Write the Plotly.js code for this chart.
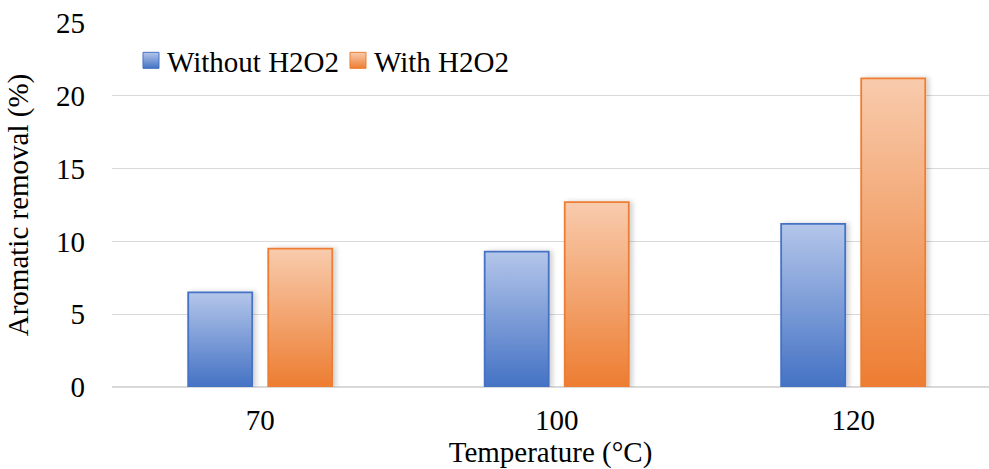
<!DOCTYPE html>
<html>
<head>
<meta charset="utf-8">
<script src="https://cdn.plot.ly/plotly-3.0.1.min.js"></script>
<style>html,body{margin:0;padding:0;background:#fff;}#chart{width:989px;height:469px;}</style>
</head>
<body>
<div id="chart"></div>
<script>
const categories = ['70', '100', '120'];
const withoutH2O2 = [6.5, 9.3, 11.2];
const withH2O2 = [9.5, 12.7, 21.2];
const yTickVals = [0, 5, 10, 15, 20, 25];
const seriesNames = ['Without H2O2', 'With H2O2'];

const FONT = '"Liberation Serif", "Times New Roman", serif';
const FS = 29;

const traces = [
  {type: 'bar', name: seriesNames[0], x: categories, y: withoutH2O2,
   marker: {color: '#4472c4', line: {color: '#4472c4', width: 1.8}}},
  {type: 'bar', name: seriesNames[1], x: categories, y: withH2O2,
   marker: {color: '#ed7d31', line: {color: '#ed7d31', width: 1.8}}}
];

const layout = {
  width: 989, height: 469,
  margin: {l: 112, r: 0, t: 23, b: 82, pad: 0},
  paper_bgcolor: '#fff', plot_bgcolor: '#fff',
  font: {family: FONT, size: FS, color: '#000'},
  barmode: 'group', bargap: 0.46, bargroupgap: 0.2,
  showlegend: true,
  legend: {orientation: 'h', x: 0.0171, xanchor: 'left', y: 0.897, yanchor: 'middle',
           font: {family: FONT, size: FS, color: '#000'}, bgcolor: 'rgba(0,0,0,0)',
           entrywidth: 162, entrywidthmode: 'pixels', traceorder: 'normal'},
  xaxis: {type: 'category', range: [-0.5, 2.458], showgrid: false, showline: false, zeroline: false,
          ticks: '', ticklabelstandoff: 13,
          title: {text: 'Temperature (°C)', font: {family: FONT, size: FS, color: '#000'}, standoff: 7},
          tickfont: {family: FONT, size: FS, color: '#000'}},
  yaxis: {range: [0, 25], tickvals: yTickVals, showgrid: true, gridcolor: '#d9d9d9', gridwidth: 1,
          zeroline: true, zerolinecolor: '#d9d9d9', zerolinewidth: 1.5, showline: false,
          ticks: '', ticklabelstandoff: 26,
          title: {text: 'Aromatic removal (%)', font: {family: FONT, size: FS, color: '#000'}, standoff: 18},
          tickfont: {family: FONT, size: FS, color: '#000'}}
};

const gd = document.getElementById('chart');
Plotly.newPlot(gd, traces, layout, {staticPlot: true, displayModeBar: false}).then(function () {
  const NS = 'http://www.w3.org/2000/svg';
  const svg = gd.querySelector('.main-svg');
  let defs = svg.querySelector('defs');
  if (!defs) { defs = document.createElementNS(NS, 'defs'); svg.insertBefore(defs, svg.firstChild); }
  const grads = [['gBlue', '#b4c6ea', '#4472c4'], ['gOrange', '#f8cbad', '#ed7d31']];
  grads.forEach(function (g) {
    const lg = document.createElementNS(NS, 'linearGradient');
    lg.setAttribute('id', g[0]);
    lg.setAttribute('x1', '0'); lg.setAttribute('y1', '0'); lg.setAttribute('x2', '0'); lg.setAttribute('y2', '1');
    const s1 = document.createElementNS(NS, 'stop'); s1.setAttribute('offset', '0'); s1.setAttribute('stop-color', g[1]);
    const s2 = document.createElementNS(NS, 'stop'); s2.setAttribute('offset', '1'); s2.setAttribute('stop-color', g[2]);
    lg.appendChild(s1); lg.appendChild(s2); defs.appendChild(lg);
  });
  const f = document.createElementNS(NS, 'filter');
  f.setAttribute('id', 'barShadow'); f.setAttribute('x', '-20%'); f.setAttribute('y', '-10%');
  f.setAttribute('width', '150%'); f.setAttribute('height', '120%');
  const ds = document.createElementNS(NS, 'feDropShadow');
  ds.setAttribute('dx', '3'); ds.setAttribute('dy', '0'); ds.setAttribute('stdDeviation', '2.5');
  ds.setAttribute('flood-color', '#000'); ds.setAttribute('flood-opacity', '0.18');
  f.appendChild(ds); defs.appendChild(f);

  const ids = ['gBlue', 'gOrange'];
  gd.querySelectorAll('.barlayer .trace').forEach(function (t, i) {
    t.querySelectorAll('path').forEach(function (p) {
      p.style.fill = 'url(#' + ids[i] + ')';
      p.setAttribute('filter', 'url(#barShadow)');
    });
  });
  gd.querySelectorAll('.legend .traces').forEach(function (t, i) {
    t.querySelectorAll('.legendpoints path').forEach(function (p) {
      p.setAttribute('d', 'M8,8H-8V-8H8Z');
      const tr = p.getAttribute('transform') || '';
      p.setAttribute('transform', tr + ' translate(4,0)');
      p.style.fill = 'url(#' + ids[i] + ')';
      p.style.strokeWidth = '1px';
    });
  });
});
</script>
</body>
</html>
